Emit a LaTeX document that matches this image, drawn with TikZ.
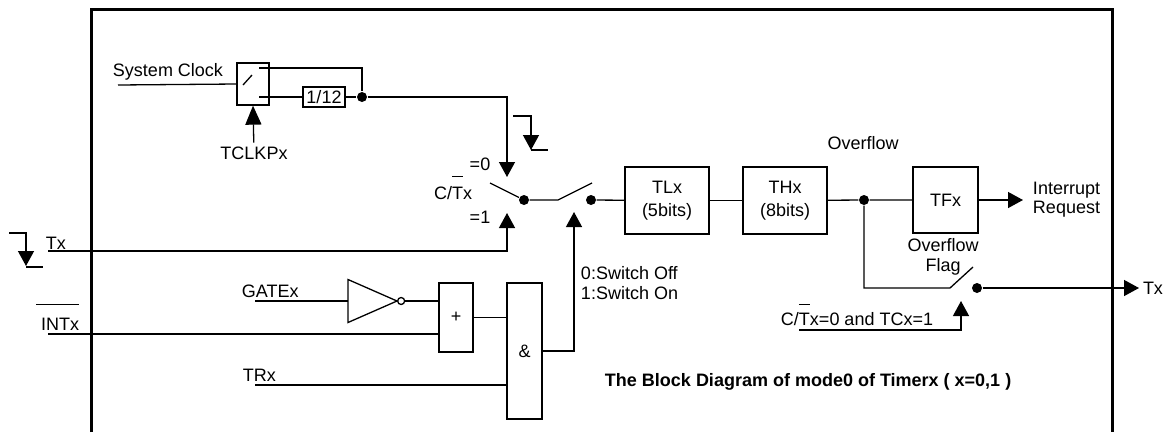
\documentclass[tikz,border=0pt]{standalone}
\usepackage{fontspec}
\setmainfont{Liberation Sans}
\usetikzlibrary{arrows.meta}
\usetikzlibrary{shapes.geometric}
\usetikzlibrary{positioning}

\newcommand{\ovl}[2][19pt]{$\overline{\mbox{\rule{0pt}{#1}#2}}$}

\begin{document}
\begin{tikzpicture}[x=1pt, y=-1pt, font=\fontsize{18}{20}\selectfont, line width=1.3pt,
  blk/.style={rectangle, draw, inner sep=0pt},
  pt/.style={circle, fill, inner sep=0pt, minimum size=10pt},
  tri/.style={-{Triangle[width=16pt, length=15pt]}}]
\useasboundingbox (0,0) rectangle (1166,432);

  % outer frame
  \draw[line width=3pt] (91,432) -- (91,9) -- (1112,9) -- (1112,432);

  % clock source and prescaler
  \node[anchor=base west] (sysclk) at (109,76) {System Clock};
  \coordinate (clkin) at (118,85);
  \node[blk, minimum width=32pt, minimum height=42pt] (clksw) at (253,84) {};
  \draw (clkin) -- (clksw.west);
  \draw (243,85) -- (252,75);
  \node[blk, minimum width=42pt, minimum height=20pt] (div) at (324,97) {1/12};
  \node[pt] (clkdot) at (362,97) {};
  \draw (259,68) -- (362,68) -- (clkdot);
  \draw (259,97) -- (div) -- (clkdot);
  \node (tclk) at (254,153) {TCLKPx};
  \draw[-{Triangle[width=16pt, length=19pt]}] (tclk) -- (clksw.south);

  % falling edge marks
  \draw[tri] (513,116) -- (531,116) -- (531,150);
  \draw (531,150) -- (548,150);
  \draw[tri] (9,233) -- (26,233) -- (26,266);
  \draw (26,267) -- (43,267);

  % counter / timer select
  \node[pt] (seldot) at (524,200) {};
  \draw (490,183) -- (seldot);
  \draw[tri] (clkdot) -| (507,177);
  \node (eq0) at (480,164) {=0};
  \node[anchor=base east] (ctsel) at (476,199) {C/\ovl[21pt]{T}x};
  \node (eq1) at (480,217) {=1};
  \node[anchor=base west] (txlbl) at (42,249) {Tx};
  \coordinate (txin) at (48,251);
  \draw[tri] (txin) -| (507,213);

  % gate switch and counter registers
  \node[pt] (gatedot) at (591,200) {};
  \draw (seldot) -- (558,200) -- (592,183);
  \node[blk, minimum width=84pt, minimum height=67pt, align=center, font=\fontsize{18}{23}\selectfont]
       (tl) at (667,200.5) {TLx\\(5bits)};
  \node[blk, minimum width=84pt, minimum height=67pt, align=center, font=\fontsize{18}{23}\selectfont]
       (th) at (785,200.5) {THx\\(8bits)};
  \draw (gatedot) -- (tl);
  \draw (tl) -- (th);

  % overflow flag and output
  \node[pt] (ovdot) at (864,200) {};
  \node (ovf) at (863,143) {Overflow};
  \node[blk, minimum width=65pt, minimum height=66pt] (tf) at (945.5,200) {TFx};
  \draw (th) -- (ovdot) -- (tf);
  \node[anchor=west, align=left, font=\fontsize{18}{19}\selectfont] (irq) at (1029,200) {Interrupt\\Request};
  \draw[tri] (tf) -- ([xshift=-6pt]irq.west);
  \node[align=center] (ovflag) at (943,257) {Overflow\\Flag};
  \node[pt] (outdot) at (977,288) {};
  \draw (ovdot) |- (950,288) -- (973,267);
  \node[anchor=west] (txout) at (1139,288) {Tx};
  \draw[tri] (outdot) -- (txout);
  \coordinate (ctlin) at (799,330);
  \draw[tri] (ctlin) -| (961,301);
  \node[anchor=base west] (ctlbl) at (777,325) {C/\ovl{T}x=0 and TCx=1};

  % gate logic
  \node[anchor=base west] (gatelbl) at (238,297) {GATEx};
  \coordinate (gatein) at (255,301);
  \node[isosceles triangle, isosceles triangle stretches, draw, inner sep=0pt, outer sep=0pt,
        minimum height=49pt, minimum width=43pt, anchor=west] (inv) at (348,301) {};
  \node[circle, draw, inner sep=0pt, minimum size=7pt, anchor=west] (bub) at (inv.apex) {};
  \node[blk, minimum width=34pt, minimum height=69pt] (or) at (456,317.5) {+};
  \draw (gatein) -- (inv.west);
  \draw (bub) -- (bub -| or.west);
  \node[anchor=base east] (intlbl) at (83,330) {\ovl[24pt]{\hspace*{5pt}INTx}};
  \coordinate (intin) at (48,334);
  \draw (intin) -- (intin -| or.west);
  \node[blk, minimum width=35pt, minimum height=136pt] (and) at (524.5,351) {\&};
  \draw (or) -- (or -| and.west);
  \node[anchor=base west] (trlbl) at (239,381) {TRx};
  \coordinate (trin) at (255,385);
  \draw (trin) -- (trin -| and.west);
  \draw[tri] (and) -| (574,212);
  \node[anchor=west, align=left] (swnote) at (577,283) {0:Switch Off\\1:Switch On};

  % caption
  \node[anchor=west, font=\fontsize{18}{20}\selectfont\bfseries] (title) at (601,382)
       {The Block Diagram of mode0 of Timerx ( x=0,1 )};
\end{tikzpicture}
\end{document}
